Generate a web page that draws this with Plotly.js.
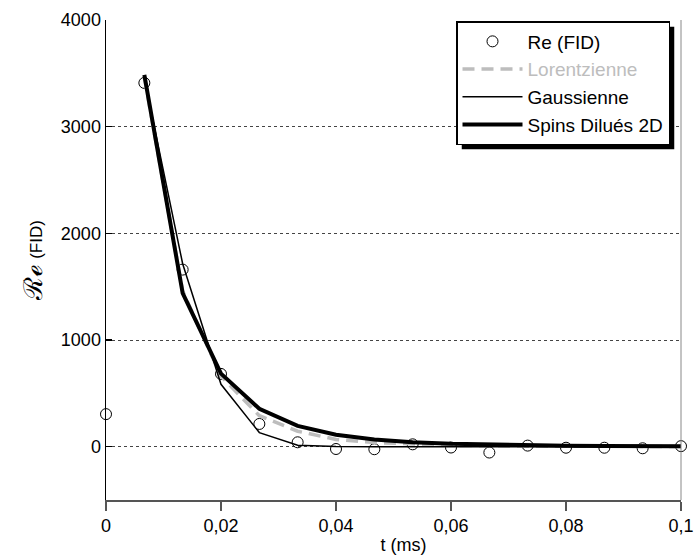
<!DOCTYPE html>
<html>
<head>
<meta charset="utf-8">
<script src="https://cdn.plot.ly/plotly-3.0.1.min.js"></script>
<style>html,body{margin:0;padding:0;background:#fff;}#chart{width:696px;height:556px;}</style>
</head>
<body>
<div id="chart"></div>
<script>
// Measured points Re(FID)
const tData = [0, 0.00667, 0.01333, 0.02, 0.02667, 0.03333, 0.04, 0.04667, 0.05333, 0.06, 0.06667, 0.07333, 0.08, 0.08667, 0.09333, 0.1];
const reFID = [305, 3410, 1660, 682, 213, 41, -22, -24, 22, -8, -55, 10, -10, -10, -15, 5];

// Fitted models (start at the second sample)
const tFit = [0.00667, 0.01333, 0.02, 0.02667, 0.03333, 0.04, 0.04667, 0.05333, 0.06, 0.06667, 0.07333, 0.08, 0.08667, 0.09333, 0.1];
const lorentz = [3460, 1460, 660, 290, 145, 68, 38, 22, 13, 8, 5, 3, 2, 1, 1];
const gauss = [3450, 1715, 585, 132, 14, 1, 0, 0, 0, 0, 0, 0, 0, 0, 0];
const spins = [3485, 1440, 685, 355, 195, 112, 68, 42, 27, 18, 12, 9, 7, 5, 4];

const names = ['Re (FID)', '<span style="color:#bdbdbd">Lorentzienne</span>', 'Gaussienne', 'Spins Dilués 2D'];

const traces = [
  {x: tData, y: reFID, name: names[0], type: 'scatter', mode: 'markers', cliponaxis: false,
   marker: {symbol: 'circle-open', size: 11, color: '#000', line: {width: 1, color: '#000'}}},
  {x: tFit, y: lorentz, name: names[1], type: 'scatter', mode: 'lines',
   line: {color: '#bdbdbd', width: 3.5, dash: '12px,7px'}},
  {x: tFit, y: gauss, name: names[2], type: 'scatter', mode: 'lines',
   line: {color: '#000', width: 1.5}},
  {x: tFit, y: spins, name: names[3], type: 'scatter', mode: 'lines',
   line: {color: '#000', width: 4}}
];

// plot area in pixels: x 106..681, y 20..500
function px(x){return (x-106)/575;}
function py(y){return 1-(y-20)/480;}

const layout = {
  width: 696, height: 556,
  margin: {l: 106, r: 15, t: 20, b: 56},
  paper_bgcolor: '#fff', plot_bgcolor: '#fff',
  separators: ', ',
  font: {family: 'Liberation Sans, Arial, sans-serif', size: 18, color: '#000'},
  showlegend: true,
  legend: {x: px(670), y: py(21), xanchor: 'right', yanchor: 'top',
           bgcolor: '#fff', bordercolor: '#000', borderwidth: 1.5,
           font: {size: 19, family: 'Liberation Sans, Arial, sans-serif'},
           itemwidth: 60, tracegroupgap: 0},
  xaxis: {range: [0, 0.1], dtick: 0.02, tick0: 0, showgrid: false, zeroline: false,
          showline: true, linecolor: '#555', linewidth: 1.5,
          ticks: 'outside', ticklen: 9, tickcolor: '#555', tickwidth: 1.5,
          tickfont: {size: 18},
          title: {text: '&nbsp;&nbsp;&nbsp;&nbsp;t (ms)', font: {size: 18}, standoff: 3}},
  yaxis: {range: [-500, 4000], dtick: 1000, tick0: 0, zeroline: false,
          showgrid: true, gridcolor: '#444', griddash: 'dot', gridwidth: 1,
          showline: true, linecolor: '#000', linewidth: 1.5,
          ticks: 'inside', ticklen: 6, tickcolor: '#000', tickwidth: 1.5,
          tickfont: {size: 18},
          title: {text: '<span style="font-family:DejaVu Serif;font-size:26px">ℛℯ</span>&nbsp;<span style="font-size:17px">(FID)</span>', standoff: 12}},
  shapes: [
    {type: 'line', xref: 'paper', yref: 'paper', x0: 1, x1: 1, y0: 0, y1: 1,
     line: {color: '#888', width: 1}},
    {type: 'rect', xref: 'paper', yref: 'paper', layer: 'above',
     x0: px(457), x1: px(674), y0: py(131), y1: py(26),
     fillcolor: '#000', line: {width: 0}}
  ]
};

const gd = document.getElementById('chart');
Plotly.newPlot(gd, traces, layout, {displayModeBar: false, staticPlot: true}).then(function(){
  // place the legend's drop shadow from the legend's actual box
  const bg = gd.querySelector('.legend .bg');
  if (!bg) return;
  const r = bg.getBoundingClientRect();
  const c = gd.getBoundingClientRect();
  const L = r.left - c.left, T = r.top - c.top, R = r.right - c.left, B = r.bottom - c.top;
  const off = 5;
  return Plotly.relayout(gd, {
    'shapes[1].x0': px(L + off), 'shapes[1].x1': px(R + off),
    'shapes[1].y0': py(B + off), 'shapes[1].y1': py(T + off)
  });
});
</script>
</body>
</html>
